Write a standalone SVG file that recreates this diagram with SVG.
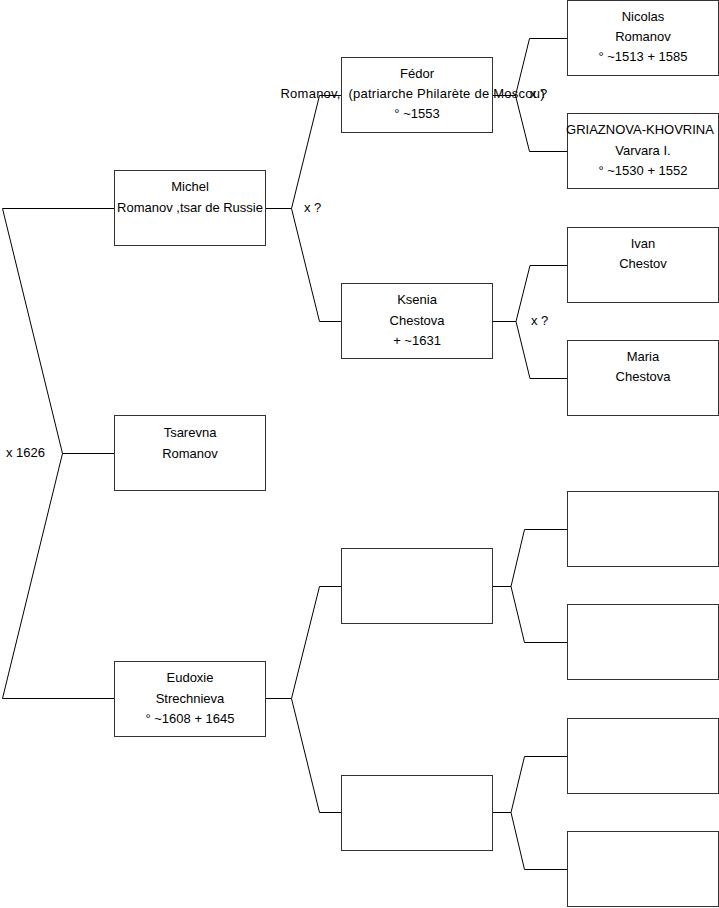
<svg xmlns="http://www.w3.org/2000/svg" width="719" height="908" viewBox="0 0 719 908">
<style>
.box{fill:#fff;stroke:#333;stroke-width:1}
.c{fill:none;stroke:#000;stroke-width:1}
text{font-family:"Liberation Sans",Arial,sans-serif;font-size:13px;fill:#000}
.m{text-anchor:middle}
</style>
<rect width="719" height="908" fill="#fff"/>
<g id="connectors">
<path class="c" d="M114,208.5 H2.5 L62.5,453.5 L2.5,698.5 H114 M62.5,453.5 H114"/>
<path class="c" d="M265.5,208.5 H291.5 L319.5,95.5 H341 M291.5,208.5 L319.5,321.5 H341"/>
<path class="c" d="M265.5,698.5 H291.5 L319.5,586.5 H341 M291.5,698.5 L319.5,812.5 H341"/>
<path class="c" d="M492.5,95.5 H515.5 L529.5,38.5 H567 M515.5,95.5 L529.5,151.5 H567"/>
<path class="c" d="M492.5,321.5 H516 L530,265.5 H567 M516,321.5 L530,378.5 H567"/>
<path class="c" d="M492.5,586.5 H511 L524.5,529.5 H567 M511,586.5 L524.5,642.5 H567"/>
<path class="c" d="M492.5,812.5 H511 L524.5,756.5 H567 M511,812.5 L524.5,869.5 H567"/>
<text x="6" y="457">x 1626</text>
<text x="304" y="212">x ?</text>
<text x="530" y="98">x ?</text>
<text x="531" y="325">x ?</text>
</g>
<g id="michel">
<rect class="box" x="114.5" y="170.5" width="151" height="75"/>
<text class="m" x="190" y="191">Michel</text>
<text class="m" x="190" y="212">Romanov ,tsar de Russie</text>
</g>
<g id="tsarevna">
<rect class="box" x="114.5" y="415.5" width="151" height="75"/>
<text class="m" x="190" y="437">Tsarevna</text>
<text class="m" x="190" y="458">Romanov</text>
</g>
<g id="eudoxie">
<rect class="box" x="114.5" y="661.5" width="151" height="75"/>
<text class="m" x="190" y="682">Eudoxie</text>
<text class="m" x="190" y="703">Strechnieva</text>
<text class="m" x="190" y="723">° ~1608 + 1645</text>
</g>
<g id="fedor">
<rect class="box" x="341.5" y="57.5" width="151" height="75"/>
<text class="m" x="417" y="78">Fédor</text>
<text class="m" x="412.5" y="98" xml:space="preserve" textLength="264">Romanov,  (patriarche Philarète de Moscou)</text>
<text class="m" x="417" y="118">° ~1553</text>
</g>
<g id="ksenia">
<rect class="box" x="341.5" y="283.5" width="151" height="75"/>
<text class="m" x="417" y="304">Ksenia</text>
<text class="m" x="417" y="325">Chestova</text>
<text class="m" x="417" y="345">+ ~1631</text>
</g>
<g id="empty2a">
<rect class="box" x="341.5" y="548.5" width="151" height="75"/>
</g>
<g id="empty2b">
<rect class="box" x="341.5" y="775.5" width="151" height="75"/>
</g>
<g id="nicolas">
<rect class="box" x="567.5" y="0.5" width="151" height="75"/>
<text class="m" x="643" y="21">Nicolas</text>
<text class="m" x="643" y="41">Romanov</text>
<text class="m" x="643" y="61">° ~1513 + 1585</text>
</g>
<g id="varvara">
<rect class="box" x="567.5" y="113.5" width="151" height="75"/>
<text class="m" x="640" y="134">GRIAZNOVA-KHOVRINA</text>
<text class="m" x="643" y="155">Varvara I.</text>
<text class="m" x="643" y="175">° ~1530 + 1552</text>
</g>
<g id="ivan">
<rect class="box" x="567.5" y="227.5" width="151" height="75"/>
<text class="m" x="643" y="248">Ivan</text>
<text class="m" x="643" y="268">Chestov</text>
</g>
<g id="maria">
<rect class="box" x="567.5" y="340.5" width="151" height="75"/>
<text class="m" x="643" y="361">Maria</text>
<text class="m" x="643" y="381">Chestova</text>
</g>
<g id="empty3a"><rect class="box" x="567.5" y="491.5" width="151" height="75"/></g>
<g id="empty3b"><rect class="box" x="567.5" y="604.5" width="151" height="75"/></g>
<g id="empty3c"><rect class="box" x="567.5" y="718.5" width="151" height="75"/></g>
<g id="empty3d"><rect class="box" x="567.5" y="831.5" width="151" height="75"/></g>
</svg>
